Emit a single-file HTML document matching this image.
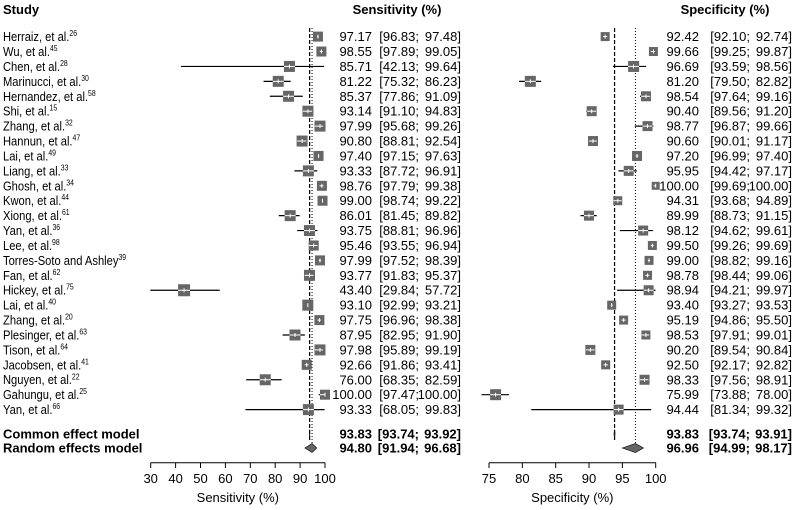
<!DOCTYPE html>
<html><head><meta charset="utf-8">
<style>
html,body{margin:0;padding:0;background:#fff;}
svg{display:block;font-family:"Liberation Sans",Arial,sans-serif;}
</style></head>
<body>
<svg id="chart" width="793" height="510" viewBox="0 0 793 510" xmlns="http://www.w3.org/2000/svg">
<text x="3" y="14" font-size="13" font-weight="bold">Study</text>
<text x="397" y="14" font-size="13" font-weight="bold" text-anchor="middle">Sensitivity (%)</text>
<text x="725" y="14" font-size="13" font-weight="bold" text-anchor="middle">Specificity (%)</text>
<g id="names"></g>
<g id="plots"></g>
</svg>
<script>
const studies = ["Herraiz, et al.","Wu, et al.","Chen, et al.","Marinucci, et al.","Hernandez, et al.","Shi, et al.","Zhang, et al.","Hannun, et al.","Lai, et al.","Liang, et al.","Ghosh, et al.","Kwon, et al.","Xiong, et al.","Yan, et al.","Lee, et al.","Torres-Soto and Ashley","Fan, et al.","Hickey, et al.","Lai, et al.","Zhang, et al.","Plesinger, et al.","Tison, et al.","Jacobsen, et al.","Nguyen, et al.","Gahungu, et al.","Yan, et al."];
const refs = ["26","45","28","30","58","15","32","47","49","33","34","44","61","36","98","39","62","75","40","20","63","64","41","22","25","66"];
const sensEst = [97.17,98.55,85.71,81.22,85.37,93.14,97.99,90.80,97.40,93.33,98.76,99.00,86.01,93.75,95.46,97.99,93.77,43.40,93.10,97.75,87.95,97.98,92.66,76.00,100.00,93.33];
const sensLo = [96.83,97.89,42.13,75.32,77.86,91.10,95.68,88.81,97.15,87.72,97.79,98.74,81.45,88.81,93.55,97.52,91.83,29.84,92.99,96.96,82.95,95.89,91.86,68.35,97.47,68.05];
const sensHi = [97.48,99.05,99.64,86.23,91.09,94.83,99.26,92.54,97.63,96.91,99.38,99.22,89.82,96.96,96.94,98.39,95.37,57.72,93.21,98.38,91.90,99.19,93.41,82.59,100.00,99.83];
const specEst = [92.42,99.66,96.69,81.20,98.54,90.40,98.77,90.60,97.20,95.95,100.00,94.31,89.99,98.12,99.50,99.00,98.78,98.94,93.40,95.19,98.53,90.20,92.50,98.33,75.99,94.44];
const specLo = [92.10,99.25,93.59,79.50,97.64,89.56,96.87,90.01,96.99,94.42,99.69,93.68,88.73,94.62,99.26,98.82,98.44,94.21,93.27,94.86,97.91,89.54,92.17,97.56,73.88,81.34];
const specHi = [92.74,99.87,98.56,82.82,99.16,91.20,99.66,91.17,97.40,97.17,100.00,94.89,91.15,99.61,99.69,99.16,99.06,99.97,93.53,95.50,99.01,90.84,92.82,98.91,78.00,99.32];
const sensBox = [10,10,11,11,11,11,11,11,10,11,10,10,11,11,10,10,11,12,11,10,11,11,10,11,10,11];
const specBox = [9,9,11,11,10,10,10,10,10,10,8,9,10,10,9,9,9,10,9,9,9,10,9,10,11,10];
const modelNames = ["Common effect model","Random effects model"];
const sensModel = [[93.83,93.74,93.92],[94.80,91.94,96.68]];
const specModel = [[93.83,93.74,93.91],[96.96,94.99,98.17]];
const sensTicks = [30,40,50,60,70,80,90,100];
const specTicks = [75,80,85,90,95,100];

const NS="http://www.w3.org/2000/svg";
const plots=document.getElementById('plots');
const namesG=document.getElementById('names');
function el(tag,attrs,parent){const e=document.createElementNS(NS,tag);for(const k in attrs)e.setAttribute(k,attrs[k]);(parent||plots).appendChild(e);return e;}
const xS=v=>150.7+(v-30)*(325-150.7)/70;
const xP=v=>489+(v-75)*(655.7-489)/25;
const rowY=i=>36.6+i*14.92;
const modelY=[434,448];
const fmt=v=>v.toFixed(2);

const nameScale=0.86;
const ng=el('g',{transform:'scale('+nameScale+',1)'},namesG);
studies.forEach((s,i)=>{
  const t=el('text',{x:3/nameScale,y:rowY(i)+4.5,'font-size':13},ng);
  
  
  t.textContent=s;
  const sp=el('tspan',{'font-size':8,dy:-5},t);
  sp.textContent=refs[i];
});
modelNames.forEach((m,i)=>{
  const t=el('text',{x:3,y:modelY[i]+4.5,'font-size':13,'font-weight':'bold'});
  
  
  t.textContent=m;
});

function panel(xf,est,lo,hi,box,model,ticks,estX,ciX,hiX,name,title,axMin,axMax){
  let l=el('line',{x1:xf(model[0][0]),x2:xf(model[0][0]),y1:28,y2:440,stroke:'#000','stroke-width':1.2,'stroke-dasharray':'4,2'});
  
  
  l=el('line',{x1:xf(model[1][0]),x2:xf(model[1][0]),y1:28,y2:446,stroke:'#000','stroke-width':1,'stroke-dasharray':'1,2'});
  
  
  est.forEach((e,i)=>{
    const y=rowY(i),cx=xf(e),h=box[i]/2;
    const xl=xf(lo[i]),xh=xf(hi[i]);
    const ci=el('line',{x1:xl,x2:xh,y1:y,y2:y,stroke:'#000','stroke-width':1.2});
    
    
    const r=el('rect',{x:cx-h,y:y-h,width:2*h,height:2*h,fill:'#666'});
    
    
    const a=Math.max(xl,cx-h),b=Math.min(xh,cx+h);
    if(b>a){const w=el('line',{x1:a,x2:b,y1:y,y2:y,stroke:'#fff','stroke-width':1});
      
      }
    const tk=el('line',{x1:cx,x2:cx,y1:y-2,y2:y+2,stroke:'#fff','stroke-width':1});
    
    
    const t1=el('text',{x:estX,y:y+4.5,'font-size':13,'text-anchor':'end'});
    
    
    t1.textContent=fmt(e);
    const t2=el('text',{x:ciX,y:y+4.5,'font-size':13,'text-anchor':'end'});
    
    
    t2.textContent='['+fmt(lo[i])+';';
    const t3=el('text',{x:hiX,y:y+4.5,'font-size':13,'text-anchor':'end'});
    
    
    t3.textContent=fmt(hi[i])+']';
  });
  model.forEach((m,i)=>{
    const y=modelY[i];
    const d=el('polygon',{points:[xf(m[1])+','+y,xf(m[0])+','+(y-4.5),xf(m[2])+','+y,xf(m[0])+','+(y+4.5)].join(' '),fill:'#666',stroke:'#000','stroke-width':0.6});
    
    
    const t1=el('text',{x:estX,y:y+4.5,'font-size':13,'font-weight':'bold','text-anchor':'end'});
    
    
    t1.textContent=fmt(m[0]);
    const t2=el('text',{x:ciX,y:y+4.5,'font-size':13,'font-weight':'bold','text-anchor':'end'});
    
    
    t2.textContent='['+fmt(m[1])+';';
    const t3=el('text',{x:hiX,y:y+4.5,'font-size':13,'font-weight':'bold','text-anchor':'end'});
    
    
    t3.textContent=fmt(m[2])+']';
  });
  const ax=el('line',{x1:xf(axMin),x2:xf(axMax),y1:462.7,y2:462.7,stroke:'#000','stroke-width':1});
  
  
  ticks.forEach(v=>{
    const tl=el('line',{x1:xf(v),x2:xf(v),y1:462.7,y2:468,stroke:'#000','stroke-width':1});
    
    
    const tt=el('text',{x:xf(v),y:483,'font-size':13,'text-anchor':'middle'});
    
    
    tt.textContent=v;
  });
  const at=el('text',{x:(xf(axMin)+xf(axMax))/2,y:502,'font-size':13,'text-anchor':'middle'});
  
  
  at.textContent=title;
}
panel(xS,sensEst,sensLo,sensHi,sensBox,sensModel,sensTicks,372,419,461,'sensitivity','Sensitivity (%)',30,100);
panel(xP,specEst,specLo,specHi,specBox,specModel,specTicks,699,750,792,'specificity','Specificity (%)',75,100);
</script>
</body></html>
